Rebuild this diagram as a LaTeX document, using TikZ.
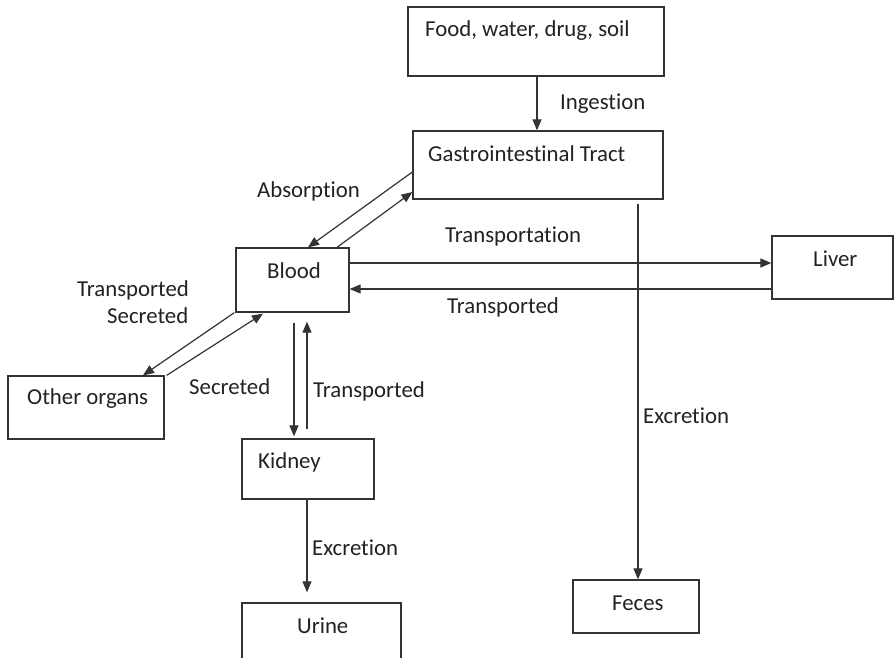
\documentclass[tikz,border=0pt]{standalone}
\usepackage{fontspec}
\setmainfont{Carlito}[Ligatures={NoCommon}]
\usetikzlibrary{arrows.meta}
\definecolor{ln}{HTML}{333333}
\definecolor{tx}{HTML}{222222}
\begin{document}
\begin{tikzpicture}[x=1pt,y=-1pt,
  box/.style={draw=ln,line width=1.3pt,inner sep=0pt,rectangle},
  lbl/.style={anchor=base west,inner sep=0pt,text=tx,font=\fontsize{22.8}{27}\selectfont},
  arr/.style={draw=ln,line width=1.2pt,-{Triangle[length=11pt,width=9pt]}},
  ln0/.style={draw=ln,line width=1.2pt}]
\clip (0,0) rectangle (894,658);
\fill[white] (0,0) rectangle (894,658);
% boxes
\node[box,minimum width=256pt,minimum height=69pt] (food) at (536,41.5) {};
\node[box,minimum width=250pt,minimum height=68pt] (gi) at (538,165) {};
\node[box,minimum width=113pt,minimum height=64pt] (blood) at (292.5,280) {};
\node[box,minimum width=121pt,minimum height=63pt] (liver) at (832.5,267.5) {};
\node[box,minimum width=156pt,minimum height=63pt] (other) at (86,407.5) {};
\node[box,minimum width=132pt,minimum height=60pt] (kidney) at (308,469) {};
\node[box,minimum width=159pt,minimum height=77pt] (urine) at (321.5,641.5) {};
\node[box,minimum width=126pt,minimum height=53pt] (feces) at (636,606.5) {};
% box texts
\node[lbl] (tfood) at (425,37) {Food, water, drug, soil};
\node[lbl] (tgi) at (428,161) {Gastrointestinal Tract};
\node[lbl] (tblood) at (267,278) {Blood};
\node[lbl] (tliver) at (813,266) {Liver};
\node[lbl] (tother) at (27,404) {Other organs};
\node[lbl] (tkidney) at (258,468) {Kidney};
\node[lbl] (turine) at (297,633) {Urine};
\node[lbl] (tfeces) at (612,610) {Feces};
% connector labels
\node[lbl] (lingest) at (560,110) {Ingestion};
\node[lbl] (labs) at (257,197) {Absorption};
\node[lbl] (ltrans1) at (445,242) {Transportation};
\node[lbl] (ltrans2) at (447,313) {Transported};
\node[lbl] (ltrans3) at (77,296) {Transported};
\node[lbl] (lsec1) at (107,323) {Secreted};
\node[lbl] (lsec2) at (189,394) {Secreted};
\node[lbl] (ltrans4) at (313,397) {Transported};
\node[lbl] (lexc1) at (312,555) {Excretion};
\node[lbl] (lexc2) at (643,423) {Excretion};
% connectors
\coordinate (fs) at ([xshift=1pt]food.south);
\draw[arr] (fs) -- (fs |- gi.north);
\draw[arr] ([yshift=-7pt]gi.west) -- ([xshift=15.5pt]blood.north);
\draw[arr] ([xshift=44.5pt]blood.north) -- ([yshift=-27pt]gi.west);
\coordinate (bl1) at ([yshift=17pt]blood.east);
\draw[arr] (bl1) -- (bl1 -| liver.west);
\coordinate (lv2) at ([yshift=-21.5pt]liver.west);
\draw[arr] (lv2) -- (lv2 -| blood.east);
\draw[arr] ([xshift=-1pt]blood.south west) -- ([xshift=57pt]other.north);
\draw[arr] ([xshift=2pt]other.north east) -- ([xshift=-29.5pt,yshift=-1pt]blood.south);
\draw[arr] ([xshift=1.5pt,yshift=-10pt]blood.south) -- ([xshift=1.5pt,yshift=2pt]blood.south |- kidney.north);
\draw[arr] ([xshift=-1pt,yshift=9pt]kidney.north) -- ([xshift=-1pt,yshift=-9pt]kidney.north |- blood.south);
\draw[arr] ([xshift=-1pt]kidney.south) -- ([xshift=-1pt,yshift=10pt]kidney.south |- urine.north);
\coordinate (gf) at ([xshift=100pt,yshift=-4pt]gi.south);
\draw[arr] (gf) -- (gf |- feces.north);
\end{tikzpicture}
\end{document}
